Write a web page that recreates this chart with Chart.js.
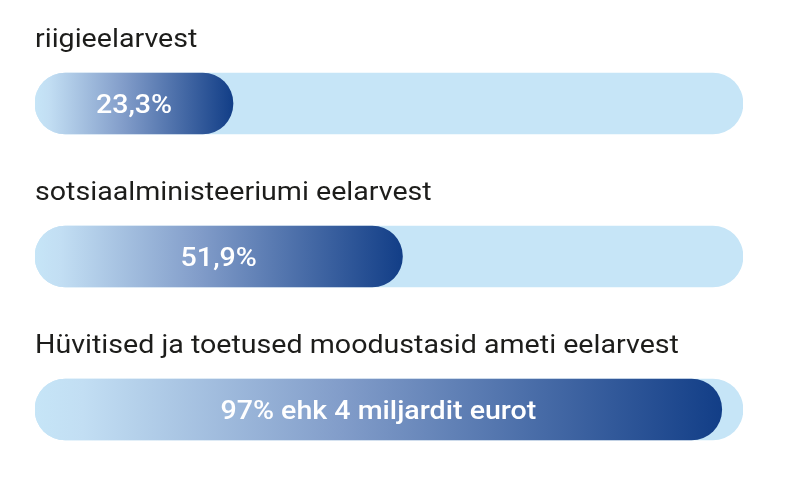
<!DOCTYPE html>
<html>
<head>
<meta charset="utf-8">
<script src="https://cdn.jsdelivr.net/npm/chart.js@4.4.0/dist/chart.umd.min.js"></script>
<style>
  html, body { margin: 0; padding: 0; background: #fff; }
  #wrap { width: 790px; height: 490px; position: relative; }
</style>
</head>
<body>
<div id="wrap"><canvas id="chart"></canvas></div>
<script>
// andmed
var categories = ["riigieelarvest", "sotsiaalministeeriumi eelarvest", "Hüvitised ja toetused moodustasid ameti eelarvest"];
var shares = [23.3, 51.9, 97];
var valueLabels = ["23,3%", "51,9%", "97% ehk 4 miljardit eurot"];
var trackValues = [100, 100, 100];

var MIN_BAR = 198;
var TEXT_STRETCH = 1.1;

var ctx = document.getElementById("chart");

// gradient for each filled bar, from its start to its end
function barGradient(context) {
    var chart = context.chart;
    var area = chart.chartArea;
    if (!area) return '#143f87';
    var xScale = chart.scales.x;
    var start = xScale.getPixelForValue(0);
    var end = Math.max(xScale.getPixelForValue(context.raw), start + MIN_BAR);
    var g = chart.ctx.createLinearGradient(start, 0, end, 0);
    g.addColorStop(0, '#c6e5f7');
    g.addColorStop(0.07, '#c2def3');
    g.addColorStop(0.45, '#819cc9');
    g.addColorStop(1, '#123e87');
    return g;
}

// text drawn slightly wider, like the original
function wideText(c, text, x, y) {
    c.save();
    c.translate(x, y);
    c.scale(TEXT_STRETCH, 1);
    c.fillText(text, 0, 0);
    c.restore();
}

// category labels above the bars and values inside
var barTexts = {
    id: 'barTexts',
    afterDatasetsDraw: function(chart) {
        var c = chart.ctx;
        var meta = chart.getDatasetMeta(0);
        c.save();
        meta.data.forEach(function(el, i) {
            var top = el.y - el.height / 2;
            c.fillStyle = '#1d1d1b';
            c.font = '400 26px Roboto';
            c.textAlign = 'left';
            c.textBaseline = 'alphabetic';
            wideText(c, categories[i], el.base, top - 26);

            c.fillStyle = '#ffffff';
            c.font = '500 26px Roboto';
            c.textAlign = 'center';
            c.textBaseline = 'alphabetic';
            wideText(c, valueLabels[i], (el.base + el.x) / 2, el.y + 9);
        });
        c.restore();
    }
};

var chartGraph = new Chart(ctx, {
    type: 'bar',
    data: {
        labels: categories,
        datasets: [
            {
                label: "osakaal",
                data: shares,
                backgroundColor: barGradient,
                barThickness: 61,
                borderRadius: 31,
                borderSkipped: false,
                minBarLength: MIN_BAR,
                grouped: false,
                order: 1
            },
            {
                label: "kokku",
                data: trackValues,
                backgroundColor: '#c6e5f7',
                barThickness: 61,
                borderRadius: 31,
                borderSkipped: false,
                grouped: false,
                order: 2
            }
        ]
    },
    options: {
        indexAxis: 'y',
        responsive: true,
        maintainAspectRatio: false,
        animation: false,
        layout: {
            padding: { left: 35, right: 47, top: 27, bottom: 4 }
        },
        scales: {
            x: { display: false, min: 0, max: 100 },
            y: { display: false }
        },
        plugins: {
            legend: { display: false },
            tooltip: { enabled: false }
        }
    },
    plugins: [barTexts]
});
</script>
</body>
</html>
